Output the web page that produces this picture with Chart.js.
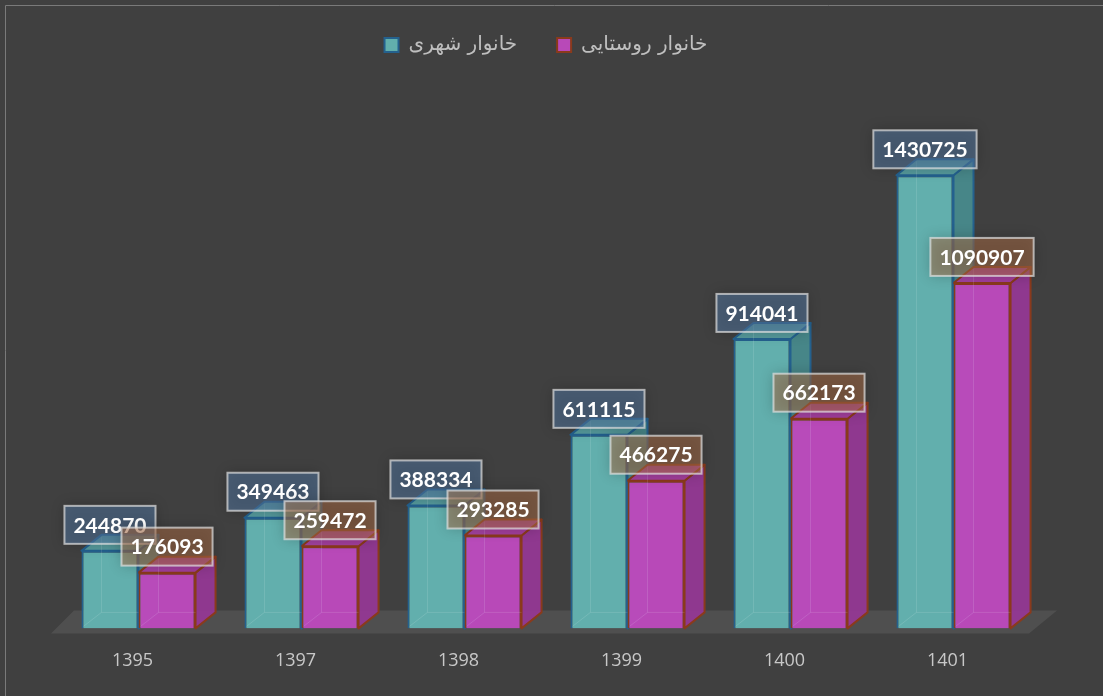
<!DOCTYPE html>
<html>
<head>
<meta charset="utf-8">
<script src="https://cdn.jsdelivr.net/npm/chart.js@4.4.0/dist/chart.umd.min.js"></script>
<style>
	html,body{margin:0;padding:0;background:#404040;}
	canvas{display:block;}
</style>
</head>
<body>
<canvas id="households" width="1103" height="696"></canvas>
<script>
	// سال ها و تعداد خانوار
	var years = ["1395","1397","1398","1399","1400","1401"];
	var urbanLabel = "خانوار شهری";
	var ruralLabel = "خانوار روستایی";
	var urban = [244870, 349463, 388334, 611115, 914041, 1430725];
	var rural = [176093, 259472, 293285, 466275, 662173, 1090907];

	var depthX = 20, depthY = -16;

	// faces colour for the fake 3d boxes
	var faces = [
		{side:"rgba(72,140,142,0.92)", top:"rgba(86,158,160,0.95)", edge:"#24618e", label:"rgba(86,124,168,0.5)"},
		{side:"rgba(148,56,148,0.95)", top:"rgba(166,62,160,0.95)", edge:"#8a3a1c", label:"rgba(176,112,72,0.5)"}
	];

	function drawFloor(chart){
		var ctx = chart.ctx;
		var a = chart.chartArea;
		var base = chart.scales.y.getPixelForValue(0);
		ctx.save();
		ctx.fillStyle = "#4f4f4f";
		ctx.beginPath();
		ctx.moveTo(a.left-6, base+5);
		ctx.lineTo(a.right-6, base+5);
		ctx.lineTo(a.right+22, base-18);
		ctx.lineTo(a.left+17, base-18);
		ctx.closePath();
		ctx.fill();
		ctx.restore();
	}

	// side + top faces of every box of one dataset
	function drawFaces(chart,index){
		var ctx = chart.ctx;
		var f = faces[index];
		chart.getDatasetMeta(index).data.forEach(function(bar){
			var p = bar.getProps(["x","y","base","width"],true);
			var l = p.x-p.width/2, r = p.x+p.width/2;
			ctx.save();
			ctx.lineWidth = 2;
			ctx.strokeStyle = f.edge;
			ctx.lineJoin = "round";
			ctx.fillStyle = f.side;
			ctx.beginPath();
			ctx.moveTo(r,p.y);
			ctx.lineTo(r+depthX,p.y+depthY);
			ctx.lineTo(r+depthX,p.base+depthY);
			ctx.lineTo(r,p.base);
			ctx.closePath();
			ctx.fill();
			ctx.stroke();
			ctx.fillStyle = f.top;
			ctx.beginPath();
			ctx.moveTo(l,p.y);
			ctx.lineTo(l+depthX,p.y+depthY);
			ctx.lineTo(r+depthX,p.y+depthY);
			ctx.lineTo(r,p.y);
			ctx.closePath();
			ctx.fill();
			ctx.stroke();
			ctx.restore();
		});
	}

	var boxes3d = {
		id:"boxes3d",
		beforeDraw:function(chart){
			var ctx = chart.ctx;
			ctx.save();
			ctx.fillStyle = "#404040";
			ctx.fillRect(0,0,chart.width,chart.height);
			ctx.strokeStyle = "#7a7a7a";
			ctx.lineWidth = 1;
			ctx.beginPath();
			ctx.moveTo(5.5,chart.height);
			ctx.lineTo(5.5,5.5);
			ctx.lineTo(chart.width,5.5);
			ctx.stroke();
			ctx.restore();
		},
		beforeDatasetsDraw:function(chart){
			drawFloor(chart);
			// urban boxes sit behind the rural ones, so their faces go first
			drawFaces(chart,0);
		},
		beforeDatasetDraw:function(chart,args){
			if(args.index==1) drawFaces(chart,1);
		},
		afterDatasetDraw:function(chart,args){
			// back edges showing faintly through the front face
			var ctx = chart.ctx;
			args.meta.data.forEach(function(bar){
				var p = bar.getProps(["x","y","base","width"],true);
				var l = p.x-p.width/2, r = p.x+p.width/2;
				ctx.save();
				ctx.strokeStyle = "rgba(255,255,255,0.12)";
				ctx.lineWidth = 1;
				ctx.beginPath();
				ctx.moveTo(l+depthX,p.y+depthY+2);
				ctx.lineTo(l+depthX,p.base+depthY);
				ctx.lineTo(r,p.base+depthY);
				ctx.moveTo(l+2,p.base-2);
				ctx.lineTo(l+depthX,p.base+depthY);
				ctx.stroke();
				ctx.restore();
			});
		},
		afterDatasetsDraw:function(chart){
			var ctx = chart.ctx;
			[0,1].forEach(function(di){
				var meta = chart.getDatasetMeta(di);
				var vals = chart.data.datasets[di].data;
				meta.data.forEach(function(bar,i){
					var p = bar.getProps(["x","y"],true);
					var txt = String(vals[i]);
					ctx.save();
					ctx.font = "bold 21px Lato";
					var w = ctx.measureText(txt).width+18, h = 38;
					var cx = p.x, cy = p.y-26;
					ctx.shadowColor = "rgba(0,0,0,0.45)";
					ctx.shadowBlur = 14;
					ctx.fillStyle = faces[di].label;
					ctx.fillRect(cx-w/2,cy-h/2,w,h);
					ctx.shadowColor = "transparent";
					ctx.strokeStyle = "rgba(225,225,225,0.7)";
					ctx.lineWidth = 2;
					ctx.strokeRect(cx-w/2,cy-h/2,w,h);
					ctx.fillStyle = "#ffffff";
					ctx.textAlign = "center";
					ctx.textBaseline = "middle";
					ctx.fillText(txt,cx,cy+1);
					ctx.restore();
				});
			});
		}
	};

	new Chart(document.getElementById("households"),{
		type:"bar",
		data:{
			labels:years,
			datasets:[
				{label:urbanLabel, data:urban, backgroundColor:"rgba(99,179,177,0.97)", borderColor:"#24618e", borderWidth:2},
				{label:ruralLabel, data:rural, backgroundColor:"rgba(188,73,188,0.97)", borderColor:"#8a3a1c", borderWidth:2}
			]
		},
		options:{
			responsive:false,
			devicePixelRatio:1,
			animation:false,
			layout:{padding:{top:-5,left:57,right:68,bottom:10}},
			categoryPercentage:0.7,
			barPercentage:1,
			plugins:{
				legend:{
					position:"top",
					labels:{
						color:"#bfbfbf",
						font:{family:"DejaVu Sans",size:20},
						boxWidth:14,
						boxHeight:14,
						padding:40
					}
				},
				tooltip:{enabled:false}
			},
			scales:{
				x:{
					grid:{display:false},
					border:{display:false},
					ticks:{color:"#c8c8c8",font:{family:"Open Sans",size:18},padding:14,labelOffset:-6}
				},
				y:{
					display:false,
					min:0,
					max:1779000
				}
			}
		},
		plugins:[boxes3d]
	});
</script>
</body>
</html>
